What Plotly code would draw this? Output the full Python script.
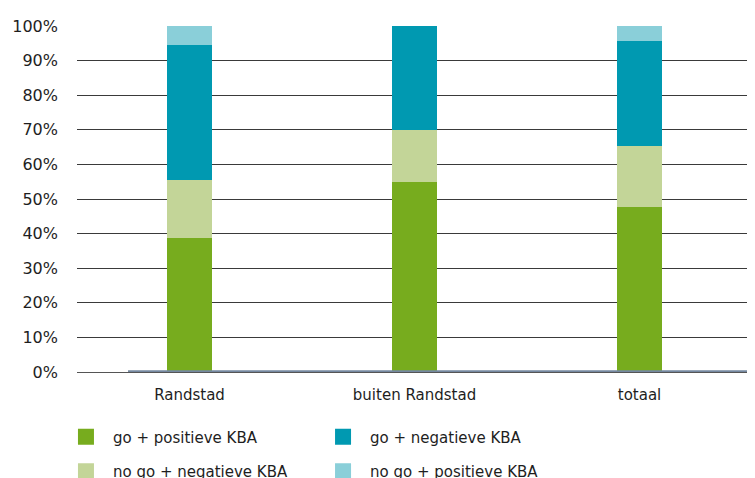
import plotly.graph_objects as go

categories = ['Randstad', 'buiten Randstad', 'totaal']
go_pos = [38.7, 55.0, 47.7]
nogo_neg = [16.8, 15.0, 17.6]
go_neg = [39.0, 30.0, 30.4]
nogo_pos = [5.5, 0.0, 4.3]

series = [
    ('go + positieve KBA', go_pos, '#77ac1e', 'legend', 'a'),
    ('no go + negatieve KBA', nogo_neg, '#c3d598', 'legend', 'b'),
    ('go + negatieve KBA', go_neg, '#0099b1', 'legend2', 'c'),
    ('no go + positieve KBA', nogo_pos, '#8acfd9', 'legend2', 'd'),
]

FONT = 'DejaVu Sans'
TXT = '#1e1e1e'

fig = go.Figure()

for name, vals, color, leg, grp in series:
    fig.add_trace(go.Bar(
        x=categories, y=vals, name=name,
        marker=dict(color=color, line=dict(width=0)),
        width=0.204, showlegend=False,
    ))
    # legend proxy with bigger square symbol
    fig.add_trace(go.Scatter(
        x=[None], y=[None], mode='markers', name=name,
        marker=dict(symbol='square', size=17, color=color),
        legend=leg, legendgroup=grp, showlegend=True,
    ))

# blue-grey baseline under the bars
fig.add_shape(type='line', xref='paper', yref='y',
              x0=0.0756, x1=1.02, y0=0.25, y1=0.25,
              line=dict(color='#7588a0', width=2))

legend_style = dict(
    orientation='v', yanchor='top', xanchor='left',
    xref='container', yref='container',
    font=dict(family=FONT, size=15, color=TXT),
    itemwidth=44, tracegroupgap=12, traceorder='grouped',
    bgcolor='rgba(0,0,0,0)', borderwidth=0,
)

# page body adds an 8px offset, margins below compensate for it
fig.update_layout(
    barmode='stack',
    width=755, height=478,
    margin=dict(l=69, r=11, t=18, b=114, autoexpand=False),
    plot_bgcolor='white', paper_bgcolor='white',
    font=dict(family=FONT, size=15, color=TXT),
    xaxis=dict(
        showgrid=False, showline=False, zeroline=False, automargin=False,
        ticks='', tickfont=dict(size=15), ticklabelstandoff=12,
    ),
    yaxis=dict(
        range=[0, 100], dtick=10, ticksuffix='%', automargin=False,
        showgrid=True, gridcolor='#3a3a3a', gridwidth=1,
        zeroline=True, zerolinecolor='#555555', zerolinewidth=1,
        showline=False, ticks='', tickfont=dict(size=16),
        ticklabelstandoff=18,
    ),
    legend=dict(x=0.0675, y=0.137, **legend_style),
    legend2=dict(x=0.408, y=0.137, **legend_style),
    showlegend=True,
    bargap=0.796,
)

fig.write_html('out.html')
